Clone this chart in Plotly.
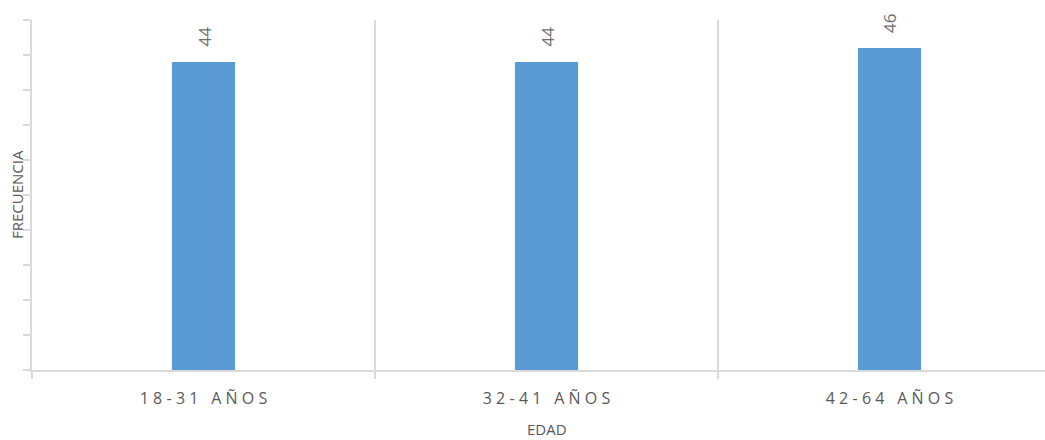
import plotly.graph_objects as go

# Age groups and how many respondents fall in each
categorias = ["18-31 AÑOS", "32-41 AÑOS", "42-64 AÑOS"]
frecuencias = [44, 44, 46]

eje_y_max = 50
paso_y = 5

GRIS_TEXTO = "#595959"
GRIS_EJE = "#D9D9D9"
AZUL = "#5B9BD5"
FUENTE = "Open Sans"

W, H = 1045, 440
M_L, M_T, M_B, M_R = 32, 20, 70, 0
ANCHO_CAT = 343  # pixels per category band
plot_w = W - M_L - M_R
plot_h = H - M_T - M_B


def espaciar(texto, sep="\u2009\u200a"):
    # widen the tracking of an axis label
    return sep.join(texto)


fig = go.Figure(
    go.Bar(
        x=categorias,
        y=frecuencias,
        width=0.184,
        marker=dict(color=AZUL, line=dict(width=0)),
        hoverinfo="skip",
    )
)

# value labels above the bars, rotated
for c, v in zip(categorias, frecuencias):
    fig.add_annotation(
        x=c, y=v, xref="x", yref="y",
        text=str(v), textangle=-90, showarrow=False,
        yanchor="bottom", yshift=13,
        font=dict(family=FUENTE, size=17, color="#6f6f6f"),
    )

# axis titles
fig.add_annotation(
    x=-15 / plot_w, y=0.5, xref="paper", yref="paper",
    text="FRECUENCIA", textangle=-90, showarrow=False,
    xanchor="center", yanchor="middle",
    font=dict(family=FUENTE, size=15, color=GRIS_TEXTO),
)
fig.add_annotation(
    x=1, y=-59 / plot_h, xref="x", yref="paper",
    text="EDAD", showarrow=False,
    xanchor="center", yanchor="middle",
    font=dict(family=FUENTE, size=15, color=GRIS_TEXTO),
)

fig.update_layout(
    width=W, height=H,
    margin=dict(l=M_L, r=M_R, t=M_T, b=M_B, pad=0),
    paper_bgcolor="white", plot_bgcolor="white",
    showlegend=False,
    font=dict(family=FUENTE, color=GRIS_TEXTO),
)

fig.update_xaxes(
    type="category",
    range=[-0.5, -0.5 + plot_w / ANCHO_CAT],
    tickmode="array",
    tickvals=categorias,
    ticktext=[espaciar(c) for c in categorias],
    tickson="boundaries",
    ticks="outside", ticklen=7, tickcolor=GRIS_EJE, tickwidth=1.5,
    ticklabelstandoff=13,
    showgrid=True, gridcolor=GRIS_EJE, gridwidth=1.5,
    showline=True, linecolor=GRIS_EJE, linewidth=1.5,
    tickfont=dict(family=FUENTE, size=16, color=GRIS_TEXTO),
    fixedrange=True,
)
fig.update_yaxes(
    range=[0, eje_y_max],
    dtick=paso_y, tick0=0,
    ticks="outside", ticklen=7, tickcolor=GRIS_EJE, tickwidth=1.5,
    showticklabels=False,
    showgrid=False, zeroline=False,
    showline=True, linecolor=GRIS_EJE, linewidth=1.5,
    fixedrange=True,
)

fig.write_html("out.html", config={"displayModeBar": False})
